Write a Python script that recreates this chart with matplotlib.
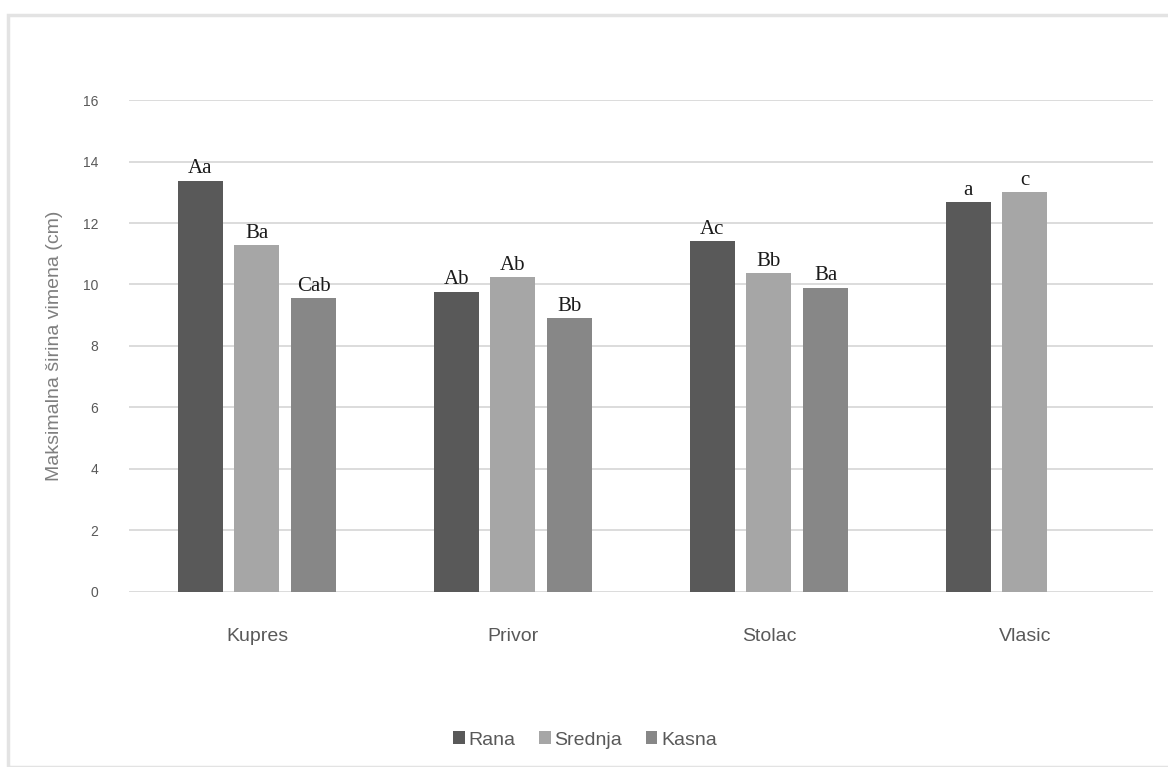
import numpy as np
import matplotlib.pyplot as plt
from matplotlib.patches import Rectangle

locations = ['Kupres', 'Privor', 'Stolac', 'Vlasic']
series = ['Rana', 'Srednja', 'Kasna']
rana = [13.37, 9.76, 11.41, 12.68]
srednja = [11.28, 10.24, 10.37, 13.0]
kasna = [9.56, 8.91, 9.89, np.nan]
labels_rana = ['Aa', 'Ab', 'Ac', 'a']
labels_srednja = ['Ba', 'Ab', 'Bb', 'c']
labels_kasna = ['Cab', 'Bb', 'Ba', '']
colors = ['#595959', '#a6a6a6', '#878787']


def main():
    fig = plt.figure(figsize=(11.68, 7.67), dpi=100)
    plt.rcParams['font.family'] = 'Liberation Sans'
    # light outer frame like the exported chart
    fig.patches.append(Rectangle((8 / 1168, 0.0), 1.2, 1 - 15 / 767, transform=fig.transFigure,
                                 fill=False, edgecolor='#e3e3e3', linewidth=2.5))
    ax = fig.add_axes([0.1104, 0.2282, 0.8767, 0.6414])

    x = np.arange(len(locations))
    width = 0.176
    step = 0.221
    all_vals = [rana, srednja, kasna]
    all_labels = [labels_rana, labels_srednja, labels_kasna]
    for i, (vals, labs) in enumerate(zip(all_vals, all_labels)):
        pos = x + (i - 1) * step
        ax.bar(pos, vals, width, color=colors[i], label=series[i], zorder=3)
        for p, v, t in zip(pos, vals, labs):
            if t and not np.isnan(v):
                ax.text(p, v + 0.08, t, ha='center', va='bottom', fontsize=15,
                        family='Liberation Serif', color='#1a1a1a', zorder=4)

    ax.set_xlim(-0.5, 3.5)
    ax.set_ylim(0, 16)
    ax.set_yticks(range(0, 17, 2))
    ax.set_xticks(x)
    ax.set_xticklabels(locations, fontsize=14, color='#595959')
    ax.tick_params(axis='y', labelsize=10, colors='#595959', length=0, pad=22)
    ax.tick_params(axis='x', length=0, pad=26)
    ax.grid(axis='y', color='#d9d9d9', linewidth=1.3, zorder=0)
    for s in ax.spines.values():
        s.set_visible(False)
    ax.set_ylabel('Maksimalna širina vimena (cm)', fontsize=14, color='#7f7f7f', labelpad=14)

    ax.legend(loc='center', bbox_to_anchor=((585 / 1168 - 0.1104) / 0.8767, (1 - 740 / 767 - 0.2282) / 0.6414),
              ncol=3, frameon=False, fontsize=14, handlelength=0.6, handleheight=0.6,
              handletextpad=0.2, columnspacing=1.2, labelcolor='#595959')

    fig.savefig('out.png', dpi=100)


if __name__ == '__main__':
    main()
